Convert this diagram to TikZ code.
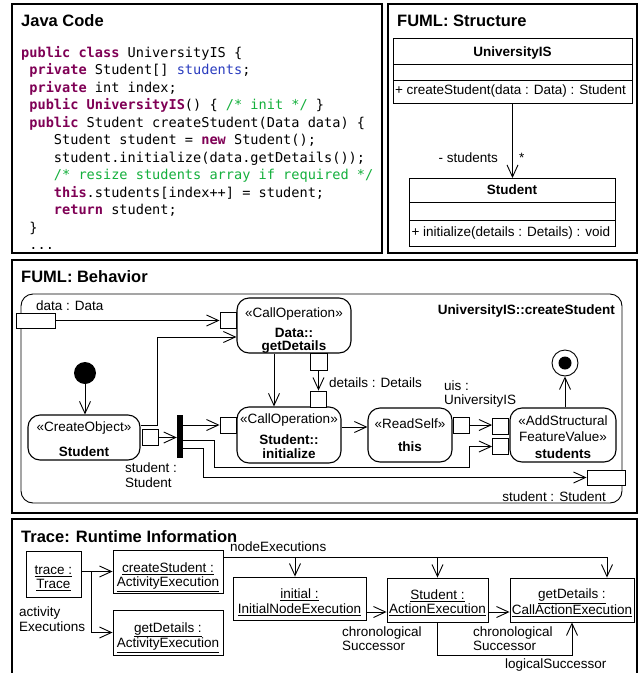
\documentclass[tikz,border=0pt]{standalone}
\usepackage{fontspec}
\setmainfont{Liberation Sans}
\setmonofont{DejaVu Sans Mono}
\usetikzlibrary{positioning,arrows.meta}
\definecolor{kwpurple}{RGB}{127,0,85}
\definecolor{fldblue}{RGB}{42,60,190}
\definecolor{cmtgreen}{RGB}{20,175,60}
\newcommand{\kw}[1]{\textcolor{kwpurple}{\bfseries #1}}
\newcommand{\fld}[1]{\textcolor{fldblue}{#1}}
\newcommand{\cmt}[1]{\textcolor{cmtgreen}{#1}}
\newcommand{\padtop}[1]{\rule{0pt}{#1}}
\newcommand{\umlfont}{\fontsize{13.5}{13}\selectfont}
\newcommand{\objfont}{\fontsize{13.5}{14.5}\selectfont}
\newcommand{\lblfont}{\fontsize{13.5}{14.5}\selectfont}
\newcommand{\titlefont}{\fontsize{16.5}{18}\selectfont\bfseries}
\tikzstyle{panel}=[line width=1.6pt]
\tikzstyle{paneltitle}=[anchor=base west,inner sep=0pt,font=\titlefont]
\tikzstyle{codeline}=[anchor=base west,inner sep=0pt,font=\fontsize{13.6}{16}\selectfont\ttfamily]
\tikzstyle{lbl}=[anchor=base west,inner sep=0pt,font=\lblfont,align=left]
\tikzstyle{classpart}=[draw,line width=0.9pt,inner sep=0pt,outer sep=0pt,font=\umlfont]
\tikzstyle{action}=[draw,line width=1.1pt,rounded corners=12pt,inner sep=0pt,align=center,font=\umlfont]
\tikzstyle{pin}=[draw,line width=0.9pt,fill=white,inner sep=0pt]
\tikzstyle{obj}=[draw,line width=0.9pt,inner sep=0pt,align=center,font=\objfont]
\tikzstyle{flow}=[line width=0.9pt,-{Straight Barb[length=12pt,width=11pt]}]

\begin{document}
\begin{tikzpicture}[x=1pt,y=-1pt]
	\useasboundingbox (0,0) rectangle (640,673);

	% Java Code
	\draw[panel] (12,4) rectangle (382,253);
	\node[paneltitle] (javaTitle) at (21,26.5) {Java Code};
	\foreach \ind/\code [count=\i from 0] in {0/{\kw{public class} UniversityIS \{},
		1/{\kw{private} Student[] \fld{students};},
		1/{\kw{private} int index;},
		1/{\kw{public} \kw{UniversityIS}() \{ \cmt{/* init */} \}},
		1/{\kw{public} Student createStudent(Data data) \{},
		4/{Student student = \kw{new} Student();},
		4/{student.initialize(data.getDetails());},
		4/{\cmt{/* resize students array if required */}},
		4/{\kw{this}.students[index++] = student;},
		4/{\kw{return} student;},
		1/{\}},
		1/{...}} { \node[codeline] (code\i) at ({21+8.19*\ind},{57+17.5*\i}) {\code};}

	% FUML: Structure
	\draw[panel] (388,4) rectangle (637,253);
	\node[paneltitle] (structTitle) at (397,26.5) {FUML: Structure};
	\node[classpart,minimum width=239pt,minimum height=26pt,text height=10pt,text depth=0pt,font=\umlfont\bfseries] (uisName) at (512.5,51) {UniversityIS};
	\node[classpart,minimum width=239pt,minimum height=16pt,below=0pt of uisName] (uisAttr) {};
	\node[classpart,minimum width=239pt,minimum height=23pt,text width=235pt,align=flush left,below=0pt of uisAttr] (uisOps) {+ createStudent(data : Data) : Student};
	\node[classpart,minimum width=206pt,minimum height=24pt,font=\umlfont\bfseries] (stuName) at (512,190) {Student};
	\node[classpart,minimum width=206pt,minimum height=18pt,below=0pt of stuName] (stuAttr) {};
	\node[classpart,minimum width=206pt,minimum height=26pt,text width=201pt,align=flush left,below=0pt of stuAttr] (stuOps) {+ initialize(details : Details) : void};
	\draw[flow] (uisOps.south) -- (uisOps.south |- stuName.north);
	\node[lbl,anchor=base east] (roleLbl) at (498,162) {- students};
	\node[lbl] (multLbl) at (519,162) {*};

	% FUML: Behavior
	\draw[panel] (12,260) rectangle (637,513);
	\node[paneltitle] (behTitle) at (21,282) {FUML: Behavior};
	\node[draw,line width=0.9pt,rounded corners=12pt,minimum width=601pt,minimum height=209pt] (activity) at (321.5,398.5) {};
	\node[lbl,anchor=base east,font=\umlfont\bfseries] (actName) at (615,314) {UniversityIS::createStudent};

	\node[circle,fill=black,minimum size=22pt,inner sep=0pt] (start) at (85,373) {};
	\node[action,minimum width=112pt,minimum height=45pt] (coAct) at (84,437.5) {\padtop{14pt}«CreateObject»\\[12pt]\textbf{Student}};
	\node[action,minimum width=114pt,minimum height=55pt] (gdAct) at (294,325.5) {\padtop{19pt}«CallOperation»\\[7pt]\textbf{Data::}\\\textbf{getDetails}};
	\node[action,minimum width=104pt,minimum height=56pt] (initAct) at (289,435) {\padtop{13pt}«CallOperation»\\[8pt]\textbf{Student::}\\[1pt]\textbf{initialize}};
	\node[action,minimum width=84pt,minimum height=54pt] (rsAct) at (410,435) {«ReadSelf»\\[10pt]\textbf{this}};
	\node[action,minimum width=106pt,minimum height=54pt] (asAct) at (563,435) {\padtop{15pt}«AddStructural\\[3pt]FeatureValue»\\[4pt]\textbf{students}};
	\node[fill=black,minimum width=6pt,minimum height=43pt,inner sep=0pt] (fork) at (180,436.5) {};
	\node[circle,draw,line width=0.9pt,minimum size=26pt,inner sep=0pt] (final) at (565,363) {};
	\fill (final) circle (6.5pt);

	\node[pin,minimum width=39pt,minimum height=15pt] (dataPin) at (35.5,320.5) {};
	\node[pin,minimum size=16pt] (gdIn) at (228,320) {};
	\node[pin,minimum size=17pt] (gdOut) at (318.5,361.5) {};
	\node[pin,minimum size=16pt] (initDet) at (318.5,399) {};
	\node[pin,minimum size=16pt] (initIn) at (228,425) {};
	\node[pin,minimum size=16pt] (coOut) at (150,437.5) {};
	\node[pin,minimum size=16pt] (rsOut) at (461.5,425) {};
	\node[pin,minimum size=16pt] (asIn1) at (500.5,426) {};
	\node[pin,minimum size=16pt] (asIn2) at (500.5,446.5) {};
	\node[pin,minimum width=38pt,minimum height=15pt] (outPin) at (606,477.5) {};

	\node[lbl] (dataLbl) at (36,310) {data : Data};
	\node[lbl] (detLbl) at (329,387) {details : Details};
	\node[lbl,anchor=west] (uisLbl) at (444,394) {uis :\\UniversityIS};
	\node[lbl,anchor=west] (stuLbl) at (125,475) {student :\\Student};
	\node[lbl,anchor=base east] (outLbl) at (606,501) {student : Student};

	\draw[flow] (start) -- (start |- coAct.north);
	\draw[flow] (dataPin.east) -- (dataPin.east -| gdIn.west);
	\draw[flow] ([yshift=12.5pt]coAct.east) -- ++(17,0) |- ([yshift=-11.5pt]gdAct.west);
	\draw[flow] (gdOut) -- (initDet);
	\draw[flow] ([xshift=-20pt]gdAct.south) -- ([xshift=-20pt]gdAct.south |- initAct.north);
	\draw[flow] (coOut.east) -- (coOut.east -| fork.west);
	\draw[flow] (fork.east |- initIn) -- (initIn.west);
	\draw[flow] ([yshift=-3.5pt]fork.east) -- ++(31,0) -- ++(0,27) -| ([xshift=-23pt]asIn2.west) -- (asIn2.west);
	\draw[flow] ([yshift=-11.5pt]fork.east) -- ++(20,0) |- (outPin.west);
	\draw[flow] ([yshift=8pt]initAct.east) -- ([yshift=8pt]initAct.east -| rsAct.west);
	\draw[flow] (rsOut.east) -- (rsOut.east -| asIn1.west);
	\draw[flow] (final |- asAct.north) -- (final.south);

	% Trace: Runtime Information
	\draw[panel] (12,678) -- (12,519) -- (637,519) -- (637,678);
	\node[paneltitle] (traceTitle) at (21,542) {Trace: Runtime Information};
	\node[obj,minimum width=55pt,minimum height=46pt] (traceObj) at (53.5,574) {\padtop{17.5pt}\underline{trace :}\\\underline{Trace}};
	\node[obj,minimum width=110pt,minimum height=43pt] (csObj) at (168,571.5) {\padtop{21pt}\underline{createStudent :}\\\underline{ActivityExecution}};
	\node[obj,minimum width=110pt,minimum height=45pt] (gdObj) at (168,632.5) {\padtop{19.5pt}\underline{getDetails :}\\\underline{ActivityExecution}};
	\node[obj,minimum width=133pt,minimum height=43pt] (initObj) at (299.5,598.5) {\padtop{17.5pt}\underline{initial :}\\\underline{InitialNodeExecution}};
	\node[obj,minimum width=101pt,minimum height=44pt] (stuObj) at (437.5,600) {\padtop{15.5pt}\underline{Student :}\\\underline{ActionExecution}};
	\node[obj,minimum width=124pt,minimum height=44pt] (gdcObj) at (572,600) {\padtop{15.5pt}\underline{getDetails :}\\\underline{CallActionExecution}};

	\node[lbl,anchor=west] (actExLbl) at (19,619) {activity\\Executions};
	\node[lbl] (nodeExLbl) at (230,551) {nodeExecutions};
	\node[lbl,anchor=west] (chronLbl) at (342,638.5) {chronological\\Successor};
	\node[lbl,anchor=west] (chronLblB) at (473,638.5) {chronological\\Successor};
	\node[lbl] (logLbl) at (505,668) {logicalSuccessor};

	\coordinate (nodeLine) at ([yshift=14.5pt]csObj.east);
	\draw[flow] (traceObj.east |- csObj.west) -- (csObj.west);
	\draw[flow] ([xshift=10pt]traceObj.east |- csObj.west) |- (gdObj.west);
	\draw[flow] (nodeLine) -| ([xshift=35pt]gdcObj.north);
	\draw[flow] ([xshift=-4.5pt]initObj.north |- nodeLine) -- ([xshift=-4.5pt]initObj.north);
	\draw[flow] (stuObj.north |- nodeLine) -- (stuObj.north);
	\draw[flow] ([yshift=-13.5pt]initObj.east) -- ([yshift=-13.5pt]initObj.east -| stuObj.west);
	\draw[flow] ([yshift=-12pt]stuObj.east) -- ([yshift=-12pt]stuObj.east -| gdcObj.west);
	\draw[flow] (stuObj.south) -- ++(0,33) -| (gdcObj.south);
\end{tikzpicture}
\end{document}
